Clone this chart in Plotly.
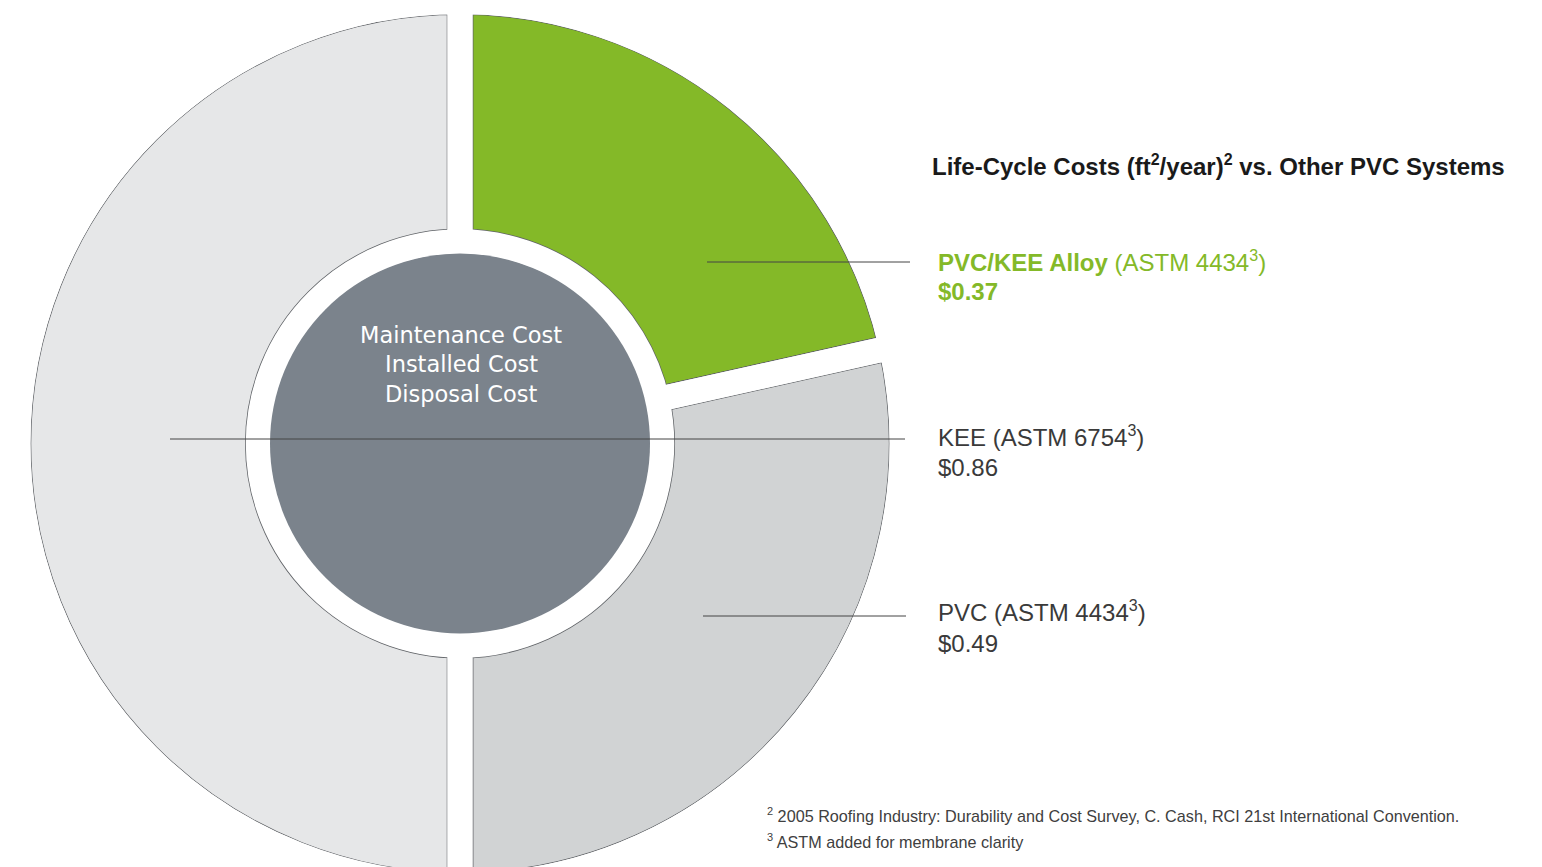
import plotly.graph_objects as go

# ---------------- data ----------------
systems = ["PVC/KEE Alloy", "PVC", "KEE"]
costs = [0.37, 0.49, 0.86]
astm_codes = ["4434", "4434", "6754"]
center_lines = ["Maintenance Cost", "Installed Cost", "Disposal Cost"]
title_parts = ["Life-Cycle Costs (ft", "2", "/year)", "2", " vs. Other PVC Systems"]
footnote_marks = ["2", "3"]
footnote_texts = [
    "2005 Roofing Industry: Durability and Cost Survey, C. Cash, RCI 21st International Convention.",
    "ASTM added for membrane clarity",
]

# ---------------- styles / geometry ----------------
W, H = 1542, 890
CX, CY = 460, 443.5          # pie centre in page pixels
GREEN = "#84b928"
slice_colors = [GREEN, "#d1d3d4", "#e6e7e8"]
OUTLINE = "#5f6266"
DISK = "#7b838c"
TEXT_DARK = "#3a3a3a"
FONT = "Liberation Sans"

A_W, B_W = 26.5, 25.0                      # dark border width / white gap width
R_MAIN, R_HOLE = 442.0, 201.75
R_RING, R_RING_HOLE, RING_W = 443.5, 175.0, 28.0
R_DISK = 190


def dom(r):
    return dict(x=[(CX - r) / W, (CX + r) / W],
                y=[1 - (CY + r) / H, 1 - (CY - r) / H])


def px(x):
    return x / W


def py(y):
    return 1 - y / H


def sup(t, size):
    return f"<sup><span style='font-size:{size}px'>{t}</span></sup>"


common = dict(sort=False, direction="clockwise", rotation=0, textinfo="none",
              hoverinfo="skip", showlegend=False)

fig = go.Figure()
# coloured slices with a dark (wide) border
fig.add_trace(go.Pie(
    values=costs, labels=systems, hole=R_HOLE / R_MAIN, domain=dom(R_MAIN),
    marker=dict(colors=slice_colors, line=dict(color=OUTLINE, width=A_W)), **common))
# white gaps on top leave a thin outline around each slice
fig.add_trace(go.Pie(
    values=costs, labels=systems, hole=R_HOLE / R_MAIN, domain=dom(R_MAIN),
    marker=dict(colors=["rgba(0,0,0,0)"] * len(costs), line=dict(color="white", width=B_W)),
    **common))
# white ring hiding the stray outer border edge
fig.add_trace(go.Pie(
    values=[1], labels=["ring"], hole=R_RING_HOLE / R_RING, domain=dom(R_RING),
    marker=dict(colors=["rgba(0,0,0,0)"], line=dict(color="white", width=RING_W)), **common))
# centre disk
fig.add_trace(go.Pie(
    values=[1], labels=["centre"], domain=dom(R_DISK),
    marker=dict(colors=[DISK], line=dict(width=0)), **common))

# leader lines
leaders = [(707, 910, 262), (170, 905, 439), (703, 906, 616)]
shapes = [dict(type="line", xref="paper", yref="paper",
               x0=px(a), x1=px(b), y0=py(y), y1=py(y),
               line=dict(color="#444444", width=1)) for a, b, y in leaders]

annotations = []


def add_text(text, x, y, size, color, family=FONT, xanchor="left"):
    annotations.append(dict(
        text=text, x=px(x), y=py(y), xref="paper", yref="paper",
        xanchor=xanchor, yanchor="middle", showarrow=False,
        font=dict(family=family, size=size, color=color)))


title_html = (title_parts[0] + sup(title_parts[1], 16) + title_parts[2]
              + sup(title_parts[3], 16) + title_parts[4])
add_text("<b>" + title_html + "</b>", 930, 165, 24, "#1a1a1a")

label_y = {"PVC/KEE Alloy": (261, 291), "KEE": (436.5, 467), "PVC": (611.5, 643)}
for name, cost, code in zip(systems, costs, astm_codes):
    y1, y2 = label_y[name]
    if name == "PVC/KEE Alloy":
        add_text(f"<b>{name}</b> (ASTM {code}{sup('3', 16)})", 936, y1, 24, GREEN)
        add_text(f"<b>${cost:.2f}</b>", 936, y2, 24, GREEN)
    else:
        add_text(f"{name} (ASTM {code}{sup('3', 16)})", 936, y1, 24, TEXT_DARK)
        add_text(f"${cost:.2f}", 936, y2, 24, TEXT_DARK)

for line, y in zip(center_lines, [335, 364, 394]):
    add_text(line, 461, y, 22.5, "white", family="DejaVu Sans", xanchor="center")

for mark, fn, y in zip(footnote_marks, footnote_texts, [815, 841]):
    add_text(sup(mark, 11) + " " + fn, 765, y, 16.2, "#404040")

fig.update_layout(
    width=W, height=H, margin=dict(l=0, r=0, t=0, b=0),
    paper_bgcolor="white", plot_bgcolor="white",
    shapes=shapes, annotations=annotations,
)

fig.write_html("out.html", config={"displayModeBar": False},
               post_script="document.body.style.margin='0px';")
